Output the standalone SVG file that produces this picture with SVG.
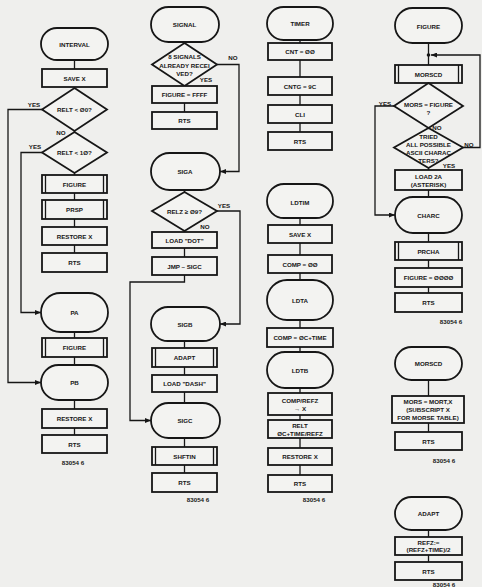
<svg xmlns="http://www.w3.org/2000/svg" width="482" height="587" viewBox="0 0 482 587">
<defs>
<style>
.n{fill:#f3f3f1;stroke:#161616;stroke-width:1.8}
.pl{stroke:#161616;stroke-width:1.3}
.c{fill:none;stroke:#161616;stroke-width:1.3}
text{font-family:"Liberation Sans",Arial,sans-serif;font-weight:bold;font-size:6.2px;fill:#161616;text-anchor:middle;dominant-baseline:central}
</style>
<marker id="ar" markerWidth="6" markerHeight="5" refX="6" refY="2.5" orient="auto" markerUnits="userSpaceOnUse"><path d="M0,0 L6,2.5 L0,5 z" fill="#161616"/></marker>
</defs>
<rect width="482" height="587" fill="#efefed"/>

<g id="connectors">
<path class="c" d="M74.5,60V69M74.5,87V88M74.5,131V132M74.5,173V175M74.5,193V200M74.5,219V227M74.5,245V253M74.5,332V338M74.5,357V365M74.5,400V409M74.5,428V435"/>
<path class="c" d="M42,109.5H8V382.5H41" marker-end="url(#ar)"/>
<path class="c" d="M42,152.5H21V312.5H41" marker-end="url(#ar)"/>
<path class="c" d="M184.5,42V43M184.5,103V112M184.5,190V192M184.5,231V232M184.5,248V257M184.5,341V348M184.5,367V375M184.5,392V403M184.5,438V447M184.5,465V473"/>
<path class="c" d="M217,64.5H239V171.5H220" marker-end="url(#ar)"/>
<path class="c" d="M217,211H240V324H220" marker-end="url(#ar)"/>
<path class="c" d="M184.5,275V282H130V420.5H151" marker-end="url(#ar)"/>
<path class="c" d="M300,40V43M300,60V77M300,95V105M300,123V132M300,218V225M300,243V255M300,273V280M300,320V328M300,347V352M300,388V393M300,415V420M300,438V448M300,465V475"/>
<path class="c" d="M428.5,43V65M428.5,168V170M428.5,190V197M428.5,233V242M428.5,260V268M428.5,287V293M428.5,380V396M428.5,423V432M428.5,530V537M428.5,555V562"/>
<circle cx="428.5" cy="55" r="1.8" fill="#161616"/>
<path class="c" d="M463,147.5H480V55H431" marker-end="url(#ar)"/>
<path class="c" d="M394,106H375V215H395" marker-end="url(#ar)"/>
<text x="34" y="104">YES</text>
<text x="35" y="146">YES</text>
<text x="61" y="132">NO</text>
<text x="233" y="57">NO</text>
<text x="206" y="79">YES</text>
<text x="224" y="205">YES</text>
<text x="205" y="226">NO</text>
<text x="385" y="103">YES</text>
<text x="437" y="127">NO</text>
<text x="469" y="144">NO</text>
<text x="449" y="165">YES</text>
</g>

<g id="interval"><rect class="n" x="41" y="28" width="67" height="32" rx="16"/><text x="74.5" y="44">INTERVAL</text></g>
<g id="c1-savex"><rect class="n" x="42" y="69" width="65" height="18"/><text x="74.5" y="78">SAVE X</text></g>
<g id="c1-d1"><polygon class="n" points="74.5,88 107,109.5 74.5,131 42,109.5"/><text x="74.5" y="109.5">RELT &lt; Ø0?</text></g>
<g id="c1-d2"><polygon class="n" points="74.5,132 107,152.5 74.5,173 42,152.5"/><text x="74.5" y="152.5">RELT &lt; 1Ø?</text></g>
<g id="c1-figure"><rect class="n" x="42" y="175" width="65" height="18"/><path class="pl" d="M45.5,175V193M103.5,175V193"/><text x="74.5" y="184">FIGURE</text></g>
<g id="c1-prsp"><rect class="n" x="42" y="200" width="65" height="19"/><path class="pl" d="M45.5,200V219M103.5,200V219"/><text x="74.5" y="209.5">PRSP</text></g>
<g id="c1-restore1"><rect class="n" x="42" y="227" width="65" height="18"/><text x="74.5" y="236">RESTORE X</text></g>
<g id="c1-rts1"><rect class="n" x="42" y="253" width="65" height="19"/><text x="74.5" y="262.5">RTS</text></g>
<g id="pa"><rect class="n" x="41" y="293" width="67" height="39" rx="19.5"/><text x="74.5" y="312.5">PA</text></g>
<g id="c1-figure2"><rect class="n" x="42" y="338" width="65" height="19"/><path class="pl" d="M45.5,338V357M103.5,338V357"/><text x="74.5" y="347.5">FIGURE</text></g>
<g id="pb"><rect class="n" x="41" y="365" width="67" height="35" rx="17.5"/><text x="74.5" y="382.5">PB</text></g>
<g id="c1-restore2"><rect class="n" x="42" y="409" width="65" height="19"/><text x="74.5" y="418.5">RESTORE X</text></g>
<g id="c1-rts2"><rect class="n" x="42" y="435" width="65" height="18"/><text x="74.5" y="444">RTS</text></g>
<g id="c1-label"><text x="73" y="462">83054 6</text></g>

<g id="signal"><rect class="n" x="151" y="7" width="68" height="35" rx="17.5"/><text x="184.5" y="24.5">SIGNAL</text></g>
<g id="c2-d1"><polygon class="n" points="184.5,43 217,64.5 184.5,86 152,64.5"/><text x="184.5" y="56">8 SIGNALS</text><text x="184.5" y="65">ALREADY RECEI</text><text x="184.5" y="73.5">VED?</text></g>
<g id="c2-ffff"><rect class="n" x="152" y="86" width="65" height="17"/><text x="184.5" y="94.5">FIGURE = FFFF</text></g>
<g id="c2-rts1"><rect class="n" x="152" y="112" width="65" height="17"/><text x="184.5" y="120.5">RTS</text></g>
<g id="siga"><rect class="n" x="151" y="153" width="69" height="37" rx="18.5"/><text x="185" y="171.5">SIGA</text></g>
<g id="c2-d2"><polygon class="n" points="184.5,192 217,211 184.5,231 152,211"/><text x="184.5" y="211">RELZ ≥ Ø9?</text></g>
<g id="c2-dot"><rect class="n" x="152" y="232" width="65" height="16"/><text x="184.5" y="240">LOAD "DOT"</text></g>
<g id="c2-jmp"><rect class="n" x="152" y="257" width="65" height="18"/><text x="184.5" y="266">JMP – SIGC</text></g>
<g id="sigb"><rect class="n" x="151" y="307" width="69" height="34" rx="17"/><text x="185" y="324">SIGB</text></g>
<g id="c2-adapt"><rect class="n" x="152" y="348" width="65" height="19"/><path class="pl" d="M155.5,348V367M213.5,348V367"/><text x="184.5" y="357.5">ADAPT</text></g>
<g id="c2-dash"><rect class="n" x="152" y="375" width="65" height="17"/><text x="184.5" y="383.5">LOAD "DASH"</text></g>
<g id="sigc"><rect class="n" x="151" y="403" width="69" height="35" rx="17.5"/><text x="185" y="420.5">SIGC</text></g>
<g id="c2-shftin"><rect class="n" x="152" y="447" width="65" height="18"/><path class="pl" d="M155.5,447V465M213.5,447V465"/><text x="184.5" y="456">SHFTIN</text></g>
<g id="c2-rts2"><rect class="n" x="152" y="473" width="65" height="19"/><text x="184.5" y="482.5">RTS</text></g>
<g id="c2-label"><text x="198" y="499">83054 6</text></g>

<g id="timer"><rect class="n" x="267" y="7" width="66" height="33" rx="16.5"/><text x="300" y="23.5">TIMER</text></g>
<g id="c3-cnt"><rect class="n" x="268" y="43" width="64" height="17"/><text x="300" y="51.5">CNT = ØØ</text></g>
<g id="c3-cntg"><rect class="n" x="268" y="77" width="64" height="18"/><text x="300" y="86">CNTG = 9C</text></g>
<g id="c3-cli"><rect class="n" x="268" y="105" width="64" height="18"/><text x="300" y="114">CLI</text></g>
<g id="c3-rts1"><rect class="n" x="268" y="132" width="64" height="18"/><text x="300" y="141">RTS</text></g>
<g id="ldtim"><rect class="n" x="267" y="184" width="66" height="34" rx="17"/><text x="300" y="202">LDTIM</text></g>
<g id="c3-savex"><rect class="n" x="268" y="225" width="64" height="18"/><text x="300" y="234">SAVE X</text></g>
<g id="c3-comp0"><rect class="n" x="268" y="255" width="64" height="18"/><text x="300" y="264">COMP = ØØ</text></g>
<g id="ldta"><rect class="n" x="267" y="280" width="66" height="40" rx="20"/><text x="300" y="300">LDTA</text></g>
<g id="c3-comp1"><rect class="n" x="267" y="328" width="66" height="19"/><text x="300" y="337.5">COMP = ØC+TIME</text></g>
<g id="ldtb"><rect class="n" x="267" y="352" width="66" height="36" rx="18"/><text x="300" y="370">LDTB</text></g>
<g id="c3-comprefz"><rect class="n" x="268" y="393" width="64" height="22"/><text x="300" y="400">COMP/REFZ</text><text x="300" y="408.5">→ X</text></g>
<g id="c3-relt"><rect class="n" x="268" y="420" width="64" height="18"/><text x="300" y="425">RELT</text><text x="300" y="433">ØC+TIME/REFZ</text></g>
<g id="c3-restore"><rect class="n" x="268" y="448" width="64" height="17"/><text x="300" y="456.5">RESTORE X</text></g>
<g id="c3-rts2"><rect class="n" x="268" y="475" width="64" height="17"/><text x="300" y="483.5">RTS</text></g>
<g id="c3-label"><text x="314" y="499">83054 6</text></g>

<g id="figure"><rect class="n" x="395" y="8" width="67" height="35" rx="17.5"/><text x="428.5" y="26">FIGURE</text></g>
<g id="c4-morscd"><rect class="n" x="395" y="65" width="67" height="18"/><path class="pl" d="M398.5,65V83M458.5,65V83"/><text x="428.5" y="74">MORSCD</text></g>
<g id="c4-d1"><polygon class="n" points="428.5,83 463,106 428.5,128 394,106"/><text x="428.5" y="104">MORS = FIGURE</text><text x="428.5" y="112">?</text></g>
<g id="c4-d2"><polygon class="n" points="428.5,128 463,147.5 428.5,168 394,147.5"/><text x="428.5" y="136.5">TRIED</text><text x="428.5" y="144.5">ALL POSSIBLE</text><text x="428.5" y="152.5">ASCII CHARAC</text><text x="428.5" y="160.5">TERS?</text></g>
<g id="c4-load2a"><rect class="n" x="395" y="170" width="67" height="20"/><text x="428.5" y="176">LOAD 2A</text><text x="428.5" y="184">(ASTERISK)</text></g>
<g id="charc"><rect class="n" x="395" y="197" width="67" height="36" rx="18"/><text x="428.5" y="215">CHARC</text></g>
<g id="c4-prcha"><rect class="n" x="395" y="242" width="67" height="18"/><path class="pl" d="M398.5,242V260M458.5,242V260"/><text x="428.5" y="251">PRCHA</text></g>
<g id="c4-fig0"><rect class="n" x="395" y="268" width="67" height="19"/><text x="428.5" y="277.5">FIGURE = ØØØØ</text></g>
<g id="c4-rts1"><rect class="n" x="395" y="293" width="67" height="19"/><text x="428.5" y="302.5">RTS</text></g>
<g id="c4-label1"><text x="451" y="321">83054 6</text></g>
<g id="morscd"><rect class="n" x="395" y="347" width="67" height="33" rx="16.5"/><text x="428.5" y="363.5">MORSCD</text></g>
<g id="c4-mors"><rect class="n" x="392" y="396" width="72" height="27"/><text x="428" y="401.5">MORS = MORT,X</text><text x="428" y="409.5">(SUBSCRIPT X</text><text x="428" y="417.5">FOR MORSE TABLE)</text></g>
<g id="c4-rts2"><rect class="n" x="395" y="432" width="67" height="18"/><text x="428.5" y="441">RTS</text></g>
<g id="c4-label2"><text x="444" y="460">83054 6</text></g>
<g id="adapt"><rect class="n" x="395" y="497" width="67" height="33" rx="16.5"/><text x="428.5" y="513.5">ADAPT</text></g>
<g id="c4-refz"><rect class="n" x="395" y="537" width="67" height="18"/><text x="428.5" y="542">REFZ:=</text><text x="428.5" y="549.5">(REFZ+TIME)/2</text></g>
<g id="c4-rts3"><rect class="n" x="395" y="562" width="67" height="18"/><text x="428.5" y="571">RTS</text></g>
<g id="c4-label3"><text x="444" y="584.5">83054 6</text></g>
</svg>
